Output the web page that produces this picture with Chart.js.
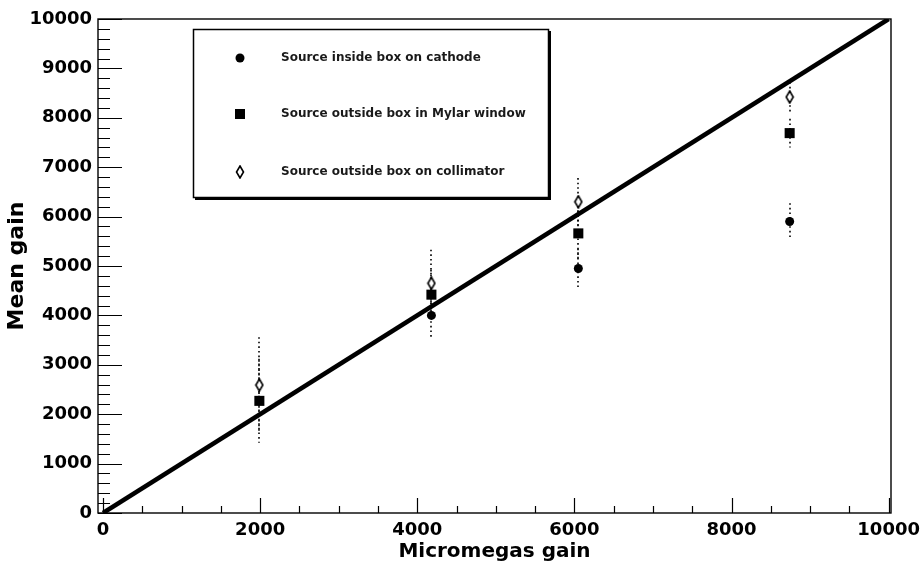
<!DOCTYPE html>
<html><head><meta charset="utf-8">
<script src="https://cdn.jsdelivr.net/npm/chart.js@4.4.0/dist/chart.umd.min.js"></script>
<style>html,body{margin:0;padding:0;background:#fff;}canvas{display:block;}</style>
</head><body>
<canvas id="c" width="920" height="565"></canvas>
<script>
// ---- data ----
const micromegasGain = [1990, 4180, 6050, 8740];
const cathodeGain = [null, 4000, 4950, 5900];
const cathodeErr = [null, 440, 400, 370];
const mylarGain = [2270, 4420, 5660, 7690];
const mylarErr = [850, 500, 550, 290];
const collimatorGain = [2590, 4650, 6300, 8420];
const collimatorErr = [970, 680, 480, 300];
const fitX = [0, 10000];
const fitY = [0, 10000];
const xTickValues = [0, 2000, 4000, 6000, 8000, 10000];
const yTickValues = [0, 1000, 2000, 3000, 4000, 5000, 6000, 7000, 8000, 9000, 10000];
const seriesNames = ['Source inside box on cathode', 'Source outside box in Mylar window', 'Source outside box on collimator'];

const toPts = (xs, ys) => xs.map((x, i) => ({x: x, y: ys[i]})).filter(p => p.y !== null);

// open diamond marker
const diamond = document.createElement('canvas');
diamond.width = 10; diamond.height = 14;
(function(){
  const g = diamond.getContext('2d');
  g.beginPath();
  g.moveTo(5, 1); g.lineTo(8.5, 7); g.lineTo(5, 13); g.lineTo(1.5, 7); g.closePath();
  g.fillStyle = '#fff'; g.fill();
  g.lineWidth = 1.6; g.strokeStyle = '#000'; g.stroke();
})();

const errorBars = {
  id: 'errorBars',
  beforeDatasetsDraw(chart) {
    const {ctx, scales: {x, y}} = chart;
    ctx.save();
    ctx.strokeStyle = '#000';
    ctx.lineWidth = 1.6;
    ctx.setLineDash([1.6, 3]);
    chart.data.datasets.forEach(ds => {
      if (!ds.errors) return;
      ds.data.forEach(p => {
        const e = ds.errors[micromegasGain.indexOf(p.x)];
        if (e == null) return;
        const px = Math.round(x.getPixelForValue(p.x));
        ctx.beginPath();
        ctx.moveTo(px, y.getPixelForValue(p.y + e));
        ctx.lineTo(px, y.getPixelForValue(p.y - e));
        ctx.stroke();
      });
    });
    ctx.restore();
  }
};

const frameAndLegend = {
  id: 'frameAndLegend',
  afterDraw(chart) {
    const {ctx, chartArea: a, scales: {x, y}} = chart;
    ctx.save();
    ctx.strokeStyle = '#000';
    ctx.lineWidth = 1.4;
    ctx.strokeRect(a.left, a.top, a.right - a.left, a.bottom - a.top);
    ctx.lineWidth = 1.2;
    ctx.beginPath();
    for (let v = 0; v <= 10000; v += 500) {
      const px = Math.round(x.getPixelForValue(v)) + 0.5;
      const len = (v % 2000 === 0) ? 15 : 7;
      ctx.moveTo(px, a.bottom); ctx.lineTo(px, a.bottom - len);
    }
    for (let v = 0; v <= 10000; v += 200) {
      const py = Math.round(y.getPixelForValue(v)) + 0.5;
      const len = (v % 1000 === 0) ? 24 : 12;
      ctx.moveTo(a.left, py); ctx.lineTo(a.left + len, py);
    }
    ctx.stroke();

    // legend box
    const L = 193, T = 29, W = 355, H = 168;
    ctx.fillStyle = '#fff';
    ctx.fillRect(L, T, W, H);
    ctx.fillStyle = '#000';
    ctx.fillRect(L + 2, T + H, W, 3);
    ctx.fillRect(L + W, T + 2, 3, H + 1);
    ctx.lineWidth = 1.5;
    ctx.strokeRect(L + 0.5, T + 0.5, W, H);
    const rows = [58, 114, 172];
    const mx = 240;
    ctx.beginPath(); ctx.arc(mx, rows[0], 4.5, 0, Math.PI * 2); ctx.fill();
    ctx.fillRect(mx - 5, rows[1] - 5, 10, 10);
    ctx.drawImage(diamond, mx - 5, rows[2] - 7);
    ctx.font = 'bold 12px "DejaVu Sans"';
    ctx.fillStyle = '#1a1a1a';
    ctx.textBaseline = 'middle';
    ctx.textAlign = 'left';
    seriesNames.forEach((t, i) => ctx.fillText(t, 281, rows[i]));
    ctx.restore();
  }
};

const tickFont = {family: '"DejaVu Sans"', size: 18, weight: 'bold'};

new Chart(document.getElementById('c'), {
  type: 'scatter',
  data: {
    datasets: [
      {label: seriesNames[0], data: toPts(micromegasGain, cathodeGain), errors: cathodeErr,
       pointStyle: 'circle', pointRadius: 4.5, backgroundColor: '#000', borderColor: '#000', borderWidth: 0, order: 3},
      {label: seriesNames[1], data: toPts(micromegasGain, mylarGain), errors: mylarErr,
       pointStyle: 'rect', pointRadius: 7.1, backgroundColor: '#000', borderColor: '#000', borderWidth: 0, order: 2},
      {label: seriesNames[2], data: toPts(micromegasGain, collimatorGain), errors: collimatorErr,
       pointStyle: diamond, pointRadius: 7, backgroundColor: '#fff', borderColor: '#000', order: 1},
      {type: 'line', label: 'fit', data: toPts(fitX, fitY), borderColor: '#000', borderWidth: 4.5,
       pointRadius: 0, fill: false, order: 0}
    ]
  },
  options: {
    responsive: false,
    animation: false,
    events: [],
    layout: {padding: {top: 19, right: 29, left: 0, bottom: 0}},
    plugins: {legend: {display: false}, tooltip: {enabled: false}},
    scales: {
      x: {
        type: 'linear', min: -64, max: 10030,
        afterFit: s => { s.height = 52; s.paddingLeft = 0; s.paddingRight = 0; },
        afterBuildTicks: s => { s.ticks = xTickValues.map(v => ({value: v})); },
        grid: {display: false, drawTicks: false},
        border: {display: false},
        ticks: {color: '#000', font: tickFont, padding: 7, autoSkip: false, maxRotation: 0,
                callback: v => String(v)},
        title: {display: true, text: 'Micromegas gain', color: '#000',
                font: {family: '"DejaVu Sans"', size: 20, weight: 'bold'}, padding: {top: 0, bottom: 1}}
      },
      y: {
        type: 'linear', min: 0, max: 10000,
        afterFit: s => { s.width = 98; s.paddingTop = 0; s.paddingBottom = 0; },
        afterBuildTicks: s => { s.ticks = yTickValues.map(v => ({value: v})); },
        grid: {display: false, drawTicks: false},
        border: {display: false},
        ticks: {color: '#000', font: tickFont, padding: 6, autoSkip: false,
                callback: v => String(v)},
        title: {display: true, text: 'Mean gain', color: '#000',
                font: {family: '"DejaVu Sans"', size: 22, weight: 'bold'}, padding: {top: 4, bottom: 0}}
      }
    }
  },
  plugins: [errorBars, frameAndLegend]
});
</script>
</body></html>
